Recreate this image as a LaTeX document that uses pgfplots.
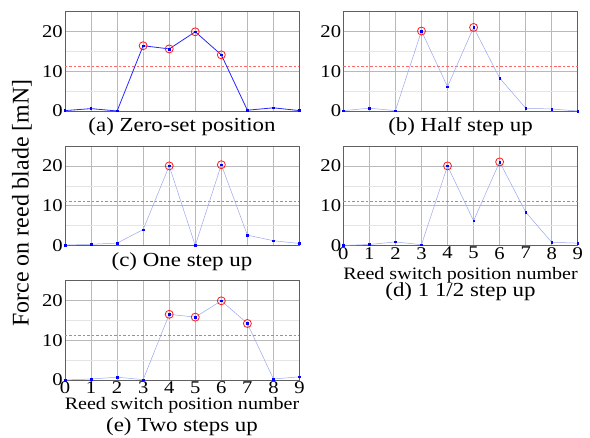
\documentclass[border=0pt]{standalone}
\usepackage{pgfplots}
\pgfplotsset{compat=1.18}
\usepackage{fontspec}
\setmainfont{Liberation Serif}[FakeStretch=1.15]
\newfontfamily\ylfont{Liberation Serif}
\definecolor{axgray}{HTML}{606060}
\definecolor{lineblue}{HTML}{9AA6F0}
\pgfplotsset{
  panel/.style={
    scale only axis, anchor=south west,
    width=234.5bp, height=99.5bp,
    xmin=0, xmax=9, ymin=0, ymax=25,
    xtick={0,...,9}, ytick={0,10,20}, minor ytick={5,15},
    grid=both,
    major grid style={draw=gray!55, line width=0.6pt},
    minor grid style={draw=gray!20, line width=0.5pt},
    axis line style={draw=axgray, line width=0.9pt},
    major tick length=0pt, minor tick length=0pt,
    /pgf/number format/assume math mode=true,
    ticklabel style={font=\fontsize{18}{18}\selectfont},
    yticklabel style={inner sep=0pt, xshift=-2pt},
    xticklabel style={inner sep=0pt, text depth=0pt, yshift=-1.5pt},
    clip=false,
  },
  noxlab/.style={xticklabels={}},
  dat/.style={color=lineblue, line width=0.5pt, mark=square*, mark size=0.8pt, mark options={blue, solid}},
  datdark/.style={color=blue!85!white, line width=0.8pt, mark=square*, mark size=0.8pt, mark options={blue, solid}},
  circ/.style={only marks, mark=o, mark size=4pt, mark options={red!90!white, line width=0.8pt}},
  dot/.style={only marks, mark=square*, mark size=0.8pt, blue},
  thr/.style={draw=red!60, line width=1pt, dash pattern=on 2.5pt off 2pt},
}
\begin{document}
\begin{tikzpicture}
\useasboundingbox (0,0) rectangle (590bp,438bp);
% (a)
\begin{axis}[panel, noxlab, at={(65bp,327bp)}]
\addplot[thr] coordinates {(0,11.1) (9,11.1)};
\addplot[datdark] coordinates {(0,0.1) (1,0.6) (2,0.0) (3,16.4) (4,15.6) (5,19.9) (6,14.1) (7,0.2) (8,0.8) (9,0.1)};
\addplot[circ] coordinates {(3,16.4) (4,15.6) (5,19.9) (6,14.1)};
\addplot[dot] coordinates {(3,16.4) (4,15.6) (5,19.9) (6,14.1)};
\end{axis}
% (b)
\begin{axis}[panel, noxlab, at={(343.3bp,327bp)}]
\addplot[thr] coordinates {(0,11.1) (9,11.1)};
\addplot[dat] coordinates {(0,0.1) (1,0.7) (2,0.1) (3,20.1) (4,6.1) (5,21.0) (6,8.3) (7,0.7) (8,0.5) (9,0.0)};
\addplot[circ] coordinates {(3,20.1) (5,21.0)};
\addplot[dot] coordinates {(3,20.1) (5,21.0)};
\end{axis}
% (c)
\begin{axis}[panel, noxlab, at={(65bp,192.5bp)}]
\addplot[thr] coordinates {(0,11.1) (9,11.1)};
\addplot[dat] coordinates {(0,0.1) (1,0.3) (2,0.6) (3,4.0) (4,20.0) (5,0.0) (6,20.3) (7,2.6) (8,1.2) (9,0.5)};
\addplot[circ] coordinates {(4,20.0) (6,20.3)};
\addplot[dot] coordinates {(4,20.0) (6,20.3)};
\end{axis}
% (d)
\begin{axis}[panel, at={(343.3bp,192.5bp)}]
\addplot[thr] coordinates {(0,11.1) (9,11.1)};
\addplot[dat] coordinates {(0,0.0) (1,0.25) (2,0.9) (3,0.2) (4,20.0) (5,6.2) (6,21.0) (7,8.4) (8,0.8) (9,0.6)};
\addplot[circ] coordinates {(4,20.0) (6,21.0)};
\addplot[dot] coordinates {(4,20.0) (6,21.0)};
\end{axis}
% (e)
\begin{axis}[panel, at={(65bp,58bp)}]
\addplot[thr] coordinates {(0,11.1) (9,11.1)};
\addplot[dat] coordinates {(0,0.0) (1,0.25) (2,0.7) (3,0.1) (4,16.5) (5,15.8) (6,19.9) (7,14.2) (8,0.25) (9,0.8)};
\addplot[circ] coordinates {(4,16.5) (5,15.8) (6,19.9) (7,14.2)};
\addplot[dot] coordinates {(4,16.5) (5,15.8) (6,19.9) (7,14.2)};
\end{axis}
% captions
\node[font=\fontsize{20}{22}\selectfont] at (182bp,311.3bp) {(a) Zero-set position};
\node[font=\fontsize{20}{22}\selectfont] at (460.5bp,311.3bp) {(b) Half step up};
\node[font=\fontsize{20}{22}\selectfont] at (182bp,176.3bp) {(c) One step up};
\node[font=\fontsize{17.5}{20}\selectfont, inner sep=0pt] at (460.5bp,163bp) {Reed switch position number};
\node[font=\fontsize{20}{22}\selectfont, inner sep=0pt] at (460.5bp,146bp) {(d) 1 1/2 step up};
\node[font=\fontsize{17.5}{20}\selectfont, inner sep=0pt] at (182bp,33bp) {Reed switch position number};
\node[font=\fontsize{20}{22}\selectfont] at (182bp,11bp) {(e) Two steps up};
\node[font=\ylfont\fontsize{24}{26}\selectfont, rotate=90] at (22bp,235bp) {Force on reed blade [mN]};
\end{tikzpicture}
\end{document}
